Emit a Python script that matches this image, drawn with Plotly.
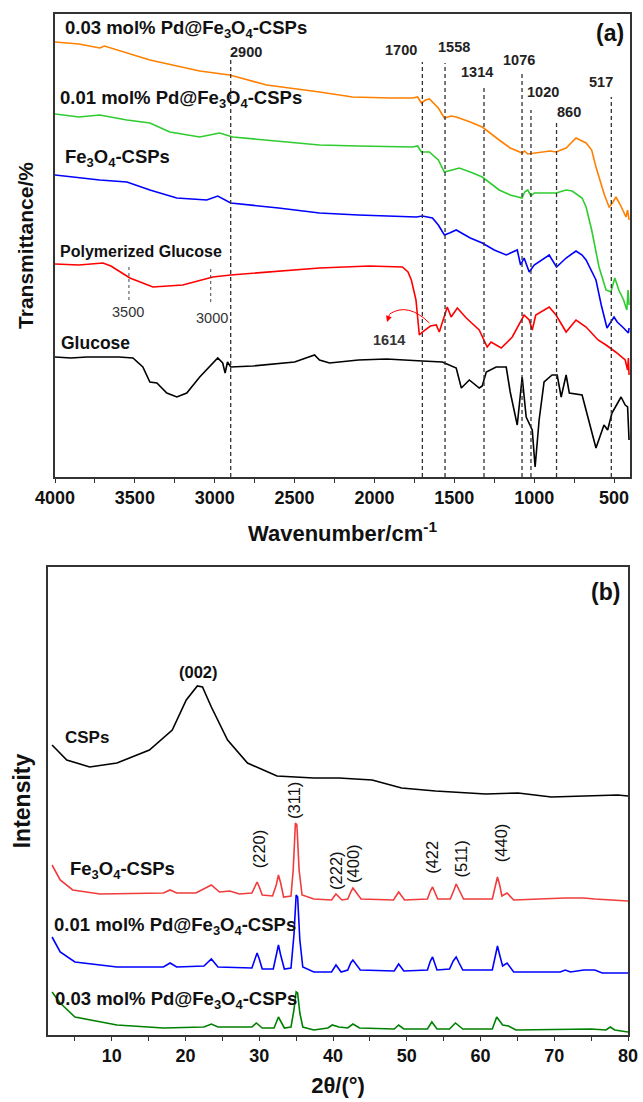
import plotly.graph_objects as go

# ---------------- Panel (a): FTIR ----------------
wn_orange = [4000, 3850, 3720, 3690, 3406, 3094, 2906, 2675, 2344, 2137, 1900, 1762, 1730, 1706, 1680, 1656,
             1600, 1562, 1520, 1488, 1400, 1325, 1219, 1150, 1075, 1060, 1040, 988, 900, 863, 800, 738, 700,
             675, 640, 613, 560, 531, 510, 488, 460, 440, 425, 415, 406]
t_orange = [435, 433, 429, 431, 417, 406, 402, 392, 385, 380, 379, 379, 380, 374, 377, 378,
            369, 359, 361, 360, 355, 350, 337, 329, 324, 326, 323, 324, 326, 325, 329, 339, 336,
            334, 327, 310, 282, 270, 274, 280, 272, 265, 260, 267, 257]

wn_green = [4000, 3850, 3720, 3690, 3550, 3406, 3281, 3094, 2969, 2887, 2600, 2344, 2100, 1762, 1730, 1706,
            1656, 1600, 1562, 1520, 1469, 1400, 1325, 1219, 1150, 1076, 1060, 1040, 1020, 1000, 906, 863,
            800, 762, 700, 675, 640, 594, 550, 520, 495, 470, 440, 420, 412, 406]
t_green = [363, 360, 362, 361, 357, 354, 345, 340, 344, 340, 336, 332, 331, 330, 331, 325,
           325, 317, 305, 307, 309, 305, 300, 287, 282, 279, 285, 287, 281, 284, 284, 284,
           287, 286, 279, 270, 247, 210, 187, 185, 199, 187, 177, 167, 187, 172]

wn_blue = [4000, 3850, 3720, 3550, 3406, 3238, 3050, 2981, 2900, 2600, 2344, 2100, 1737, 1700, 1637, 1600,
           1562, 1530, 1488, 1400, 1325, 1250, 1175, 1106, 1085, 1063, 1031, 1000, 950, 906, 860, 800,
           738, 700, 675, 613, 580, 544, 500, 480, 440, 410, 406]
t_blue = [302, 299, 297, 295, 287, 279, 277, 281, 274, 269, 264, 262, 260, 261, 259, 252,
          242, 244, 247, 239, 234, 227, 222, 227, 212, 219, 205, 212, 217, 222, 210, 219,
          226, 222, 217, 197, 172, 149, 160, 155, 149, 144, 149]

wn_red = [4000, 3850, 3700, 3650, 3531, 3387, 3200, 3012, 2900, 2600, 2344, 2031, 1825, 1790, 1769, 1740,
          1719, 1700, 1650, 1613, 1594, 1544, 1520, 1481, 1425, 1344, 1294, 1270, 1206, 1137, 1063, 1031,
          1012, 990, 906, 863, 800, 738, 675, 600, 550, 490, 430, 415, 410, 406]
t_red = [213, 212, 214, 211, 199, 190, 192, 200, 202, 206, 209, 211, 210, 205, 197, 177,
         142, 145, 151, 152, 145, 170, 160, 169, 159, 147, 130, 135, 129, 140, 162, 157,
         147, 162, 170, 162, 145, 157, 150, 137, 132, 125, 117, 107, 119, 102]

wn_black = [4000, 3900, 3800, 3700, 3600, 3512, 3450, 3406, 3362, 3300, 3237, 3175, 3094, 2981, 2950, 2935,
            2920, 2900, 2762, 2500, 2375, 2344, 2281, 2100, 1925, 1700, 1575, 1488, 1456, 1406, 1344, 1325,
            1300, 1238, 1175, 1150, 1125, 1106, 1075, 1050, 1012, 994, 969, 938, 888, 856, 831, 800, 780,
            700, 613, 563, 540, 513, 456, 430, 415, 406]
t_black = [120, 119, 120, 120, 120, 119, 110, 95, 94, 84, 80, 84, 100, 119, 114, 104,
           115, 110, 111, 115, 122, 117, 114, 117, 118, 116, 115, 109, 89, 97, 89, 91,
           105, 110, 110, 85, 67, 52, 100, 60, 47, 10, 57, 95, 102, 102, 80, 102, 84,
           82, 29, 52, 47, 64, 80, 72, 70, 37]

ftir_series = [
    ("0.03 mol% Pd@Fe3O4-CSPs", wn_orange, t_orange, "#FF8000"),
    ("0.01 mol% Pd@Fe3O4-CSPs", wn_green, t_green, "#2ECC2E"),
    ("Fe3O4-CSPs", wn_blue, t_blue, "#0000FF"),
    ("Polymerized Glucose", wn_red, t_red, "#FF0000"),
    ("Glucose", wn_black, t_black, "#000000"),
]

peak_lines = [2900, 1700, 1558, 1314, 1076, 1020, 860, 517]
peak_line_tops = [419, 415, 414, 389, 404, 367, 355, 380]
peak_labels = ["2900", "1700", "1558", "1314", "1076", "1020", "860", "517"]

# ---------------- Panel (b): XRD ----------------
tt_csp = [1.9, 3.9, 7.0, 10.7, 15.1, 18.2, 20.1, 21.6, 22.3, 23.5, 25.7, 28.4, 32.4, 37.4, 40.8, 45.3,
          49.3, 53.9, 60.7, 65.1, 69.6, 75.0, 78.6, 80.0]
i_csp = [290, 275, 268, 272, 285, 305, 335, 349, 348, 328, 295, 272, 259, 257, 257, 255,
         247, 244, 241, 242, 238, 239, 240, 239]

tt_fe = [1.9, 3.0, 4.7, 8.4, 17.0, 17.9, 18.8, 21.4, 23.5, 24.6, 26.0, 27.3, 29.0, 29.4, 29.7, 30.0,
         30.4, 31.8, 32.3, 32.6, 32.9, 33.3, 34.3, 34.6, 34.9, 35.1, 35.4, 35.8, 37.4, 39.8, 40.4, 41.2,
         42.0, 42.4, 42.7, 43.1, 43.8, 48.2, 48.9, 49.7, 52.8, 53.2, 53.5, 54.2, 55.9, 56.4, 56.7, 57.1,
         57.7, 61.6, 62.0, 62.3, 62.6, 62.9, 63.6, 64.5, 71.5, 74.0, 75.5, 80.0]
i_fe = [170, 155, 145, 141, 142, 145, 142, 142, 150, 143, 144, 141, 142, 148, 153, 148,
        140, 139, 150, 160, 152, 138, 139, 165, 212, 210, 165, 140, 136, 135, 141, 135,
        136, 143, 147, 143, 136, 135, 143, 135, 136, 144, 148, 136, 136, 145, 151, 145,
        136, 136, 150, 158, 150, 139, 142, 135, 137, 137, 136, 134]

tt_pd1 = [1.9, 3.0, 5.0, 10.7, 17.0, 17.9, 18.8, 22.5, 23.5, 24.4, 29.0, 29.4, 29.7, 30.0, 30.4, 31.9,
          32.3, 32.6, 32.9, 33.4, 34.3, 34.7, 35.0, 35.2, 35.5, 35.9, 37.4, 39.8, 40.4, 41.1, 42.0, 42.4,
          42.7, 43.1, 43.7, 48.3, 48.9, 49.6, 52.8, 53.2, 53.5, 54.1, 55.8, 56.3, 56.7, 57.1, 57.6, 61.6,
          62.0, 62.3, 62.6, 63.0, 63.6, 64.5, 70.8, 71.5, 72.2, 74.0, 75.5, 76.5, 80.0]
i_pd1 = [98, 83, 73, 68, 68, 72, 68, 69, 76, 68, 67, 76, 82, 76, 66, 66,
         80, 90, 80, 66, 67, 100, 140, 138, 95, 68, 63, 63, 70, 63, 65, 72,
         75, 71, 65, 64, 71, 64, 65, 74, 78, 65, 66, 74, 78, 72, 65, 65,
         80, 89, 80, 69, 72, 63, 63, 65, 63, 65, 65, 62, 62]

tt_pd3 = [1.9, 3.0, 5.0, 10.7, 17.0, 22.5, 23.5, 24.4, 29.0, 29.6, 30.4, 32.0, 32.6, 33.4, 34.3, 34.7,
          35.0, 35.2, 35.5, 35.9, 37.4, 39.3, 39.9, 40.8, 42.0, 42.7, 43.6, 48.3, 48.9, 49.6, 52.8, 53.4,
          54.1, 55.8, 56.6, 57.6, 61.6, 62.2, 63.0, 63.8, 64.8, 71.5, 75.0, 77.0, 77.6, 78.2, 80.0]
i_pd3 = [43, 32, 18, 10, 7, 8, 11, 8, 8, 12, 7, 7, 18, 7, 8, 25,
         43, 42, 22, 8, 5, 7, 10, 8, 7, 11, 7, 6, 10, 6, 6, 13,
         6, 6, 12, 6, 6, 18, 10, 9, 5, 6, 6, 5, 8, 5, 3]

xrd_series = [
    ("CSPs", tt_csp, i_csp, "#000000"),
    ("Fe3O4-CSPs", tt_fe, i_fe, "#F03C3C"),
    ("0.01 mol% Pd@Fe3O4-CSPs", tt_pd1, i_pd1, "#0000FF"),
    ("0.03 mol% Pd@Fe3O4-CSPs", tt_pd3, i_pd3, "#008000"),
]

hkl_labels = ["(220)", "(311)", "(222)", "(400)", "(422", "(511)", "(440)"]
hkl_pos = [30.0, 34.7, 40.4, 42.7, 53.4, 57.3, 62.8]
hkl_height = [186, 235, 165, 172, 178, 176, 192]

# ---------------- Figure ----------------
W, H = 643, 1102
FONT = "Liberation Sans, Arial, sans-serif"
fig = go.Figure()

for name, x, y, c in ftir_series:
    fig.add_trace(go.Scatter(x=x, y=y, mode="lines", name=name, xaxis="x", yaxis="y",
                             line=dict(color=c, width=1.6), showlegend=False))
for name, x, y, c in xrd_series:
    fig.add_trace(go.Scatter(x=x, y=y, mode="lines", name=name, xaxis="x2", yaxis="y2",
                             line=dict(color=c, width=1.6), showlegend=False))

shapes = []
for w, top in zip(peak_lines, peak_line_tops):
    shapes.append(dict(type="line", xref="x", yref="y", x0=w, x1=w, y0=0, y1=top,
                       line=dict(color="#333333", width=1.3, dash="4px,3px")))
# dotted markers on polymerized glucose
for w, y0, y1 in [(3537, 177, 212), (3025, 175, 210)]:
    shapes.append(dict(type="line", xref="x", yref="y", x0=w, x1=w, y0=y0, y1=y1,
                       line=dict(color="#444444", width=1, dash="dot")))
# curved arrow stem for 1614
shapes.append(dict(type="path", xref="x", yref="y", path="M 1656,154 Q 1790,175 1905,163",
                   line=dict(color="#FF0000", width=1)))

ann = []
def A(text, x, y, xref, yref, size, bold=True, xanchor="center", color="#111111", angle=0, family=FONT):
    ann.append(dict(text=text, x=x, y=y, xref=xref, yref=yref, showarrow=False, xanchor=xanchor,
                    yanchor="middle", textangle=angle,
                    font=dict(family=family, size=size, color=color, weight="bold" if bold else "normal")))

sub = lambda s: s.replace("Fe3O4", "Fe<sub>3</sub>O<sub>4</sub>")
# panel a curve labels
A(sub("0.03 mol% Pd@Fe3O4-CSPs"), 3950, 448, "x", "y", 18.5, xanchor="left")
A(sub("0.01 mol% Pd@Fe3O4-CSPs"), 3981, 378, "x", "y", 18.5, xanchor="left")
A(sub("Fe3O4-CSPs"), 3950, 319, "x", "y", 18.5, xanchor="left")
A("Polymerized Glucose", 3981, 225, "x", "y", 16, xanchor="left")
A("Glucose", 3975, 134, "x", "y", 17.5, xanchor="left")
A("(a)", 0.949, 0.970, "paper", "paper", 23)
# peak labels
lab_pos = [(2806, 425), (1831, 427), (1500, 430), (1356, 405), (1094, 417), (944, 385), (781, 365), (581, 395)]
for t, (x, y) in zip(peak_labels, lab_pos):
    A(t, x, y, "x", "y", 14.5, color="#222222")
A("3500", 3544, 165, "x", "y", 14.5, bold=False, color="#333333")
A("3000", 3019, 159, "x", "y", 14.5, bold=False, color="#333333")
A("1614", 1906, 137, "x", "y", 14.5, color="#333333")
ann.append(dict(x=1921, y=155, ax=1903, ay=164, xref="x", yref="y", axref="x", ayref="y", text="",
                showarrow=True, arrowhead=2, arrowsize=1.2, arrowwidth=1, arrowcolor="#FF0000"))

# panel b labels
A("(002)", 21.8, 363, "x2", "y2", 16.5)
A("CSPs", 3.4, 298, "x2", "y2", 17, xanchor="left")
A(sub("Fe3O4-CSPs"), 4.05, 165, "x2", "y2", 18.5, xanchor="left")
A(sub("0.01 mol% Pd@Fe3O4-CSPs"), 1.9, 109, "x2", "y2", 18.5, xanchor="left")
A(sub("0.03 mol% Pd@Fe3O4-CSPs"), 2.0, 35, "x2", "y2", 18.5, xanchor="left")
A("(b)", 0.941, 0.4625, "paper", "paper", 23)
for t, x, y in zip(hkl_labels, hkl_pos, hkl_height):
    A(t, x, y, "x2", "y2", 16.5, bold=False, angle=-90, color="#111111")

axis_common = dict(showline=True, linecolor="#333333", linewidth=1.5, mirror=True, showgrid=False,
                   zeroline=False, automargin=False)

fig.update_layout(
    template="none",
    width=W, height=H, margin=dict(l=0, r=0, t=0, b=0, autoexpand=False),
    paper_bgcolor="white", plot_bgcolor="white",
    font=dict(family=FONT, color="#111111"),
    shapes=shapes, annotations=ann,
    xaxis=dict(**axis_common, domain=[55 / W, 630 / W], anchor="y", range=[4000, 400],
               tickvals=[4000, 3500, 3000, 2500, 2000, 1500, 1000, 500],
               ticks="outside", ticklen=4, tickwidth=1.3, tickcolor="#333333",
               minor=dict(ticks="outside", ticklen=4, tickwidth=1.3, tickcolor="#333333", dtick=250,
                          tick0=0, showgrid=False),
               tickfont=dict(size=18, weight="bold", family=FONT),
               title=dict(text="Wavenumber/cm<sup>-1</sup>", font=dict(size=22, weight="bold", family=FONT),
                          standoff=18)),
    yaxis=dict(**axis_common, domain=[1 - 477 / H, 1 - 14 / H], anchor="x", range=[0, 463],
               showticklabels=False, ticks="",
               title=dict(text="Transmittance/%", font=dict(size=21, weight="bold", family=FONT),
                          standoff=14)),
    xaxis2=dict(**axis_common, domain=[48 / W, 628 / W], anchor="y2", range=[1.35, 80],
                tickvals=[10, 20, 30, 40, 50, 60, 70, 80],
                ticks="outside", ticklen=4, tickwidth=1.3, tickcolor="#333333",
                minor=dict(ticks="outside", ticklen=4, tickwidth=1.3, tickcolor="#333333", dtick=5,
                           tick0=0, showgrid=False),
                tickfont=dict(size=18, weight="bold", family=FONT),
                title=dict(text="2θ/(°)", font=dict(size=22, weight="bold", family=FONT), standoff=12)),
    yaxis2=dict(**axis_common, domain=[1 - 1035 / H, 1 - 567 / H], anchor="x2", range=[0, 468],
                showticklabels=False, ticks="",
                title=dict(text="Intensity", font=dict(size=23, weight="bold", family=FONT), standoff=9)),
)

fig.write_html("out.html")
